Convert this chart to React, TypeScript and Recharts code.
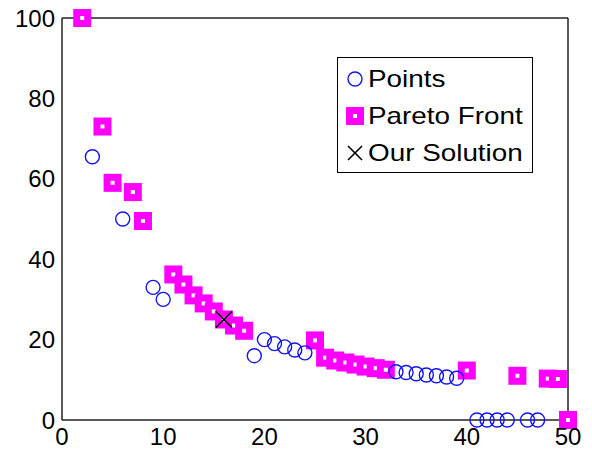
import { ScatterChart, Scatter, XAxis, YAxis } from "recharts";

const pointX = [3, 6, 9, 10, 19, 20, 21, 22, 23, 24, 33, 34, 35, 36, 37, 38, 39, 41, 42, 43, 44, 46, 47];
const pointY = [65.5, 50, 33, 30, 16, 20, 19, 18.2, 17.4, 16.7, 12, 11.8, 11.5, 11.2, 11, 10.7, 10.4, 0, 0, 0, 0, 0, 0];

const paretoX = [2, 4, 5, 7, 8, 11, 12, 13, 14, 15, 16, 17, 18, 25, 26, 27, 28, 29, 30, 31, 32, 40, 45, 48, 49, 50];
const paretoY = [100, 73, 59, 56.7, 49.5, 36.2, 33.7, 31, 29, 27, 25, 23.5, 22.2, 19.8, 15.5, 14.8, 14.3, 13.8, 13.3, 12.9, 12.5, 12.3, 11, 10.3, 10.2, 0];

const solutionX = [16];
const solutionY = [25];

const xTicks = [0, 10, 20, 30, 40, 50];
const yTicks = [0, 20, 40, 60, 80, 100];

const zip = (xs: number[], ys: number[]) => xs.map((x, i) => ({ x, y: ys[i] }));

const BLUE = "#1414f0";
const MAGENTA = "#ff00ff";
const FONT = "'Liberation Sans', Arial, sans-serif";

function Circle(props: any) {
  const { cx, cy } = props;
  return <circle cx={cx} cy={cy} r={7} fill="none" stroke={BLUE} strokeWidth={1.4} />;
}

function Square(props: any) {
  const { cx, cy } = props;
  return (
    <g>
      <rect x={cx - 9} y={cy - 9} width={18} height={18} fill={MAGENTA} />
      <rect x={cx - 2} y={cy - 2} width={4} height={4} fill="white" />
    </g>
  );
}

function Cross(props: any) {
  const { cx, cy, s = 8 } = props;
  return (
    <g stroke="black" strokeWidth={1.6}>
      <line x1={cx - s} y1={cy - s} x2={cx + s} y2={cy + s} />
      <line x1={cx - s} y1={cy + s} x2={cx + s} y2={cy - s} />
    </g>
  );
}

// legend text in the original is a bit wider than Liberation Sans, so stretch it
function Legend() {
  const row = (marker: React.ReactNode, label: string) => (
    <div style={{ display: "flex", alignItems: "center", height: 37 }}>
      <svg width={27} height={24} style={{ flex: "none" }}>
        {marker}
      </svg>
      <span style={{ display: "inline-block", transform: "scaleX(1.16)", transformOrigin: "left center", whiteSpace: "nowrap" }}>
        {label}
      </span>
    </div>
  );
  return (
    <div
      style={{
        position: "absolute",
        left: 337,
        top: 57,
        width: 196,
        height: 116,
        border: "1px solid black",
        background: "white",
        boxSizing: "border-box",
        fontFamily: FONT,
        fontSize: 24,
        lineHeight: 1,
        padding: "2px 0 0 3px",
      }}
    >
      {row(<Circle cx={14} cy={12} />, "Points")}
      {row(<Square cx={14} cy={12} />, "Pareto Front")}
      {row(<Cross cx={14} cy={12} s={7} />, "Our Solution")}
    </div>
  );
}

export default function App() {
  const tickStyle = { fontSize: 24, fill: "black", fontFamily: FONT };
  const line = { stroke: "#222", strokeWidth: 1.5 };
  return (
    <div style={{ position: "absolute", left: 0, top: 0, width: 592, height: 454, background: "white" }}>
      <ScatterChart width={592} height={454} margin={{ top: 18, right: 24, left: 0, bottom: 0 }}>
        <XAxis xAxisId="b" type="number" dataKey="x" domain={[0, 50]} ticks={xTicks} height={34}
          tick={tickStyle} tickLine={false} axisLine={line} tickMargin={2} />
        <XAxis xAxisId="bm" type="number" dataKey="x" domain={[0, 50]} ticks={xTicks} mirror
          tick={false} tickLine={line} axisLine={false} tickSize={6} />
        <XAxis xAxisId="t" orientation="top" type="number" dataKey="x" domain={[0, 50]} ticks={xTicks} mirror
          tick={false} tickLine={line} axisLine={line} tickSize={6} />
        <YAxis yAxisId="l" type="number" dataKey="y" domain={[0, 100]} ticks={yTicks} width={62}
          tick={tickStyle} tickLine={false} axisLine={line} tickMargin={1} />
        <YAxis yAxisId="lm" type="number" dataKey="y" domain={[0, 100]} ticks={yTicks} mirror
          tick={false} tickLine={line} axisLine={false} tickSize={6} />
        <YAxis yAxisId="r" orientation="right" type="number" dataKey="y" domain={[0, 100]} ticks={yTicks} mirror
          tick={false} tickLine={line} axisLine={line} tickSize={6} />
        <Scatter name="Pareto Front" xAxisId="b" yAxisId="l" data={zip(paretoX, paretoY)}
          shape={(p: any) => <Square cx={p.cx} cy={p.cy} />} isAnimationActive={false} />
        <Scatter name="Points" xAxisId="b" yAxisId="l" data={zip(pointX, pointY)}
          shape={(p: any) => <Circle cx={p.cx} cy={p.cy} />} isAnimationActive={false} />
        <Scatter name="Our Solution" xAxisId="b" yAxisId="l" data={zip(solutionX, solutionY)}
          shape={(p: any) => <Cross cx={p.cx} cy={p.cy} />} isAnimationActive={false} />
      </ScatterChart>
      <Legend />
    </div>
  );
}
